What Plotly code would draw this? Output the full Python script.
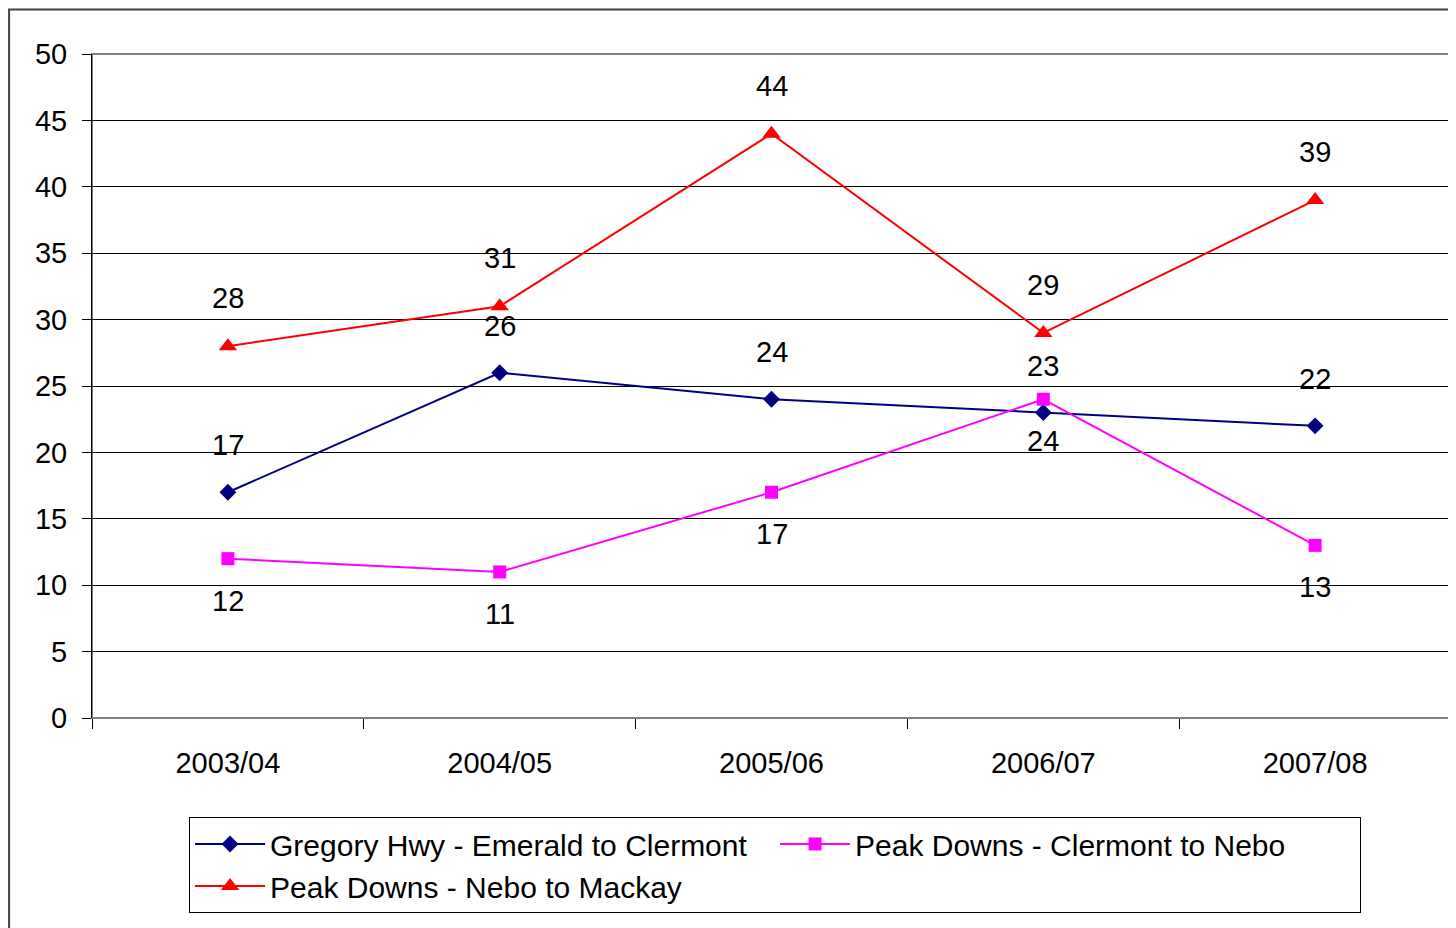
import plotly.graph_objects as go

years = ["2003/04", "2004/05", "2005/06", "2006/07", "2007/08"]
gregory = [17, 26, 24, 23, 22]
clermont_nebo = [12, 11, 17, 24, 13]
nebo_mackay = [28, 31, 44, 29, 39]

names = ["Gregory Hwy - Emerald to Clermont",
         "Peak Downs - Clermont to Nebo",
         "Peak Downs - Nebo to Mackay"]

FONT = "Liberation Sans, Arial, sans-serif"

fig = go.Figure()
fig.add_trace(go.Scatter(x=years, y=gregory, name=names[0], mode="lines+markers",
                         line=dict(color="#000080", width=2),
                         marker=dict(symbol="diamond", size=13, color="#000080")))
fig.add_trace(go.Scatter(x=years, y=clermont_nebo, name=names[1], mode="lines+markers",
                         line=dict(color="#FF00FF", width=2),
                         marker=dict(symbol="square", size=13, color="#FF00FF")))
fig.add_trace(go.Scatter(x=years, y=nebo_mackay, name=names[2], mode="lines+markers",
                         line=dict(color="#FF0000", width=2),
                         marker=dict(symbol="triangle-up", size=16, color="#FF0000")))

annotations = []
for series, shift in ((gregory, 47), (clermont_nebo, -42), (nebo_mackay, 48)):
    for x, y in zip(years, series):
        annotations.append(dict(x=x, y=y, text=str(y), showarrow=False, yshift=shift,
                                font=dict(size=29, color="black", family=FONT)))

shapes = [
    # outer chart border
    dict(type="rect", xref="paper", yref="paper", x0=-0.0610, x1=1.01, y0=-0.33, y1=1.0670,
         line=dict(color="#404040", width=2), layer="below"),
    # plot-area border
    dict(type="rect", xref="paper", yref="paper", x0=0, x1=1, y0=0, y1=1,
         line=dict(color="#808080", width=2), layer="below"),
]

fig.update_layout(
    width=1448, height=920,
    margin=dict(l=84, r=5, t=46, b=210, autoexpand=False),
    paper_bgcolor="white", plot_bgcolor="white",
    font=dict(family=FONT, size=29, color="black"),
    showlegend=True,
    legend=dict(orientation="h", x=0.0714, xanchor="left", y=-0.149, yanchor="top",
                bordercolor="black", borderwidth=1, bgcolor="white",
                font=dict(size=30, family=FONT), itemwidth=70,
                entrywidth=500, entrywidthmode="pixels",
                traceorder="normal"),
    annotations=annotations,
    shapes=shapes,
    xaxis=dict(type="category", range=[-0.5, 4.5], tickson="boundaries", ticks="outside",
               ticklen=10, tickcolor="black", showgrid=False, showline=False, zeroline=False,
               tickfont=dict(size=29), ticklabelstandoff=25, automargin=False),
    yaxis=dict(range=[0, 50], dtick=5, tick0=0, ticks="outside", ticklen=9,
               tickcolor="black", showgrid=True, gridcolor="black", gridwidth=1,
               showline=True, linecolor="black", linewidth=1, zeroline=False,
               tickfont=dict(size=29), ticklabelstandoff=9, automargin=False),
)

fig.write_html("out.html")
